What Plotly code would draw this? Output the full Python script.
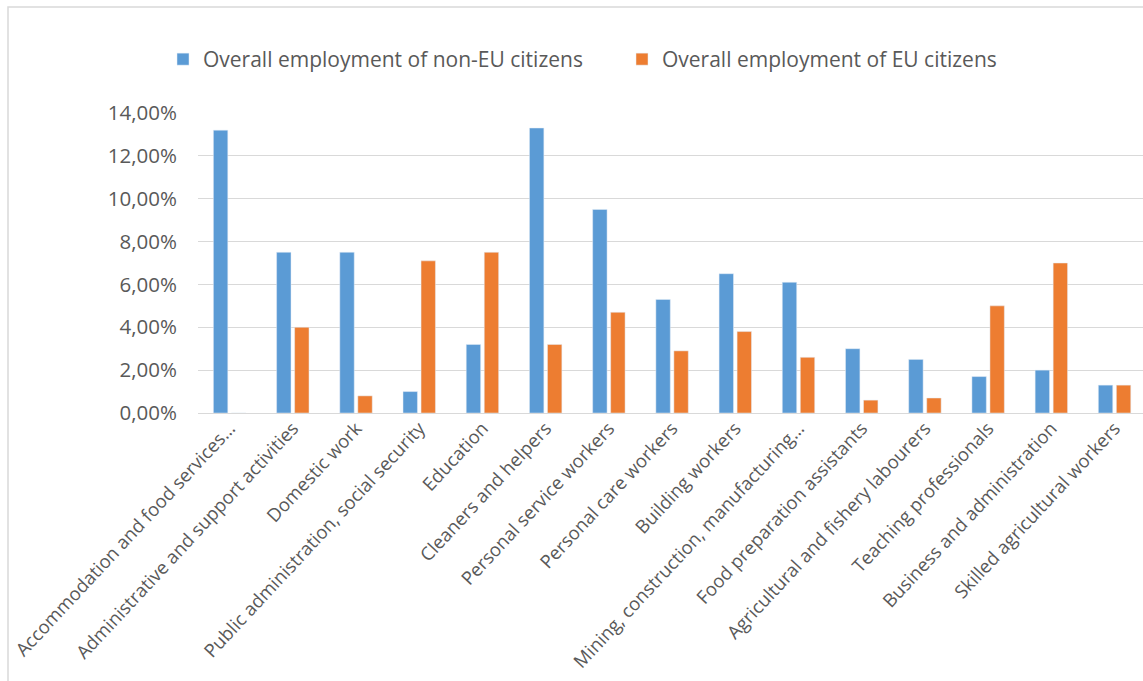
import plotly.graph_objects as go

categories = [
    "Accommodation and food services…",
    "Administrative and support activities",
    "Domestic work",
    "Public administration, social security",
    "Education",
    "Cleaners and helpers",
    "Personal service workers",
    "Personal care workers",
    "Building workers",
    "Mining, construction, manufacturing…",
    "Food preparation assistants",
    "Agricultural and fishery labourers",
    "Teaching professionals",
    "Business and administration",
    "Skilled agricultural workers",
]

non_eu = [0.132, 0.075, 0.075, 0.010, 0.032, 0.133, 0.095, 0.053, 0.065, 0.061, 0.030, 0.025, 0.017, 0.020, 0.013]
eu = [0.0, 0.040, 0.008, 0.071, 0.075, 0.032, 0.047, 0.029, 0.038, 0.026, 0.006, 0.007, 0.050, 0.070, 0.013]

series_names = ["Overall employment of non-EU citizens", "Overall employment of EU citizens"]

BLUE = "#5B9BD5"
ORANGE = "#ED7D31"
GRID = "#D9D9D9"
TEXT = "#595959"
FONT = "Open Sans"

fig = go.Figure()
fig.add_trace(go.Bar(x=categories, y=non_eu, name=series_names[0], marker_color=BLUE))
fig.add_trace(go.Bar(x=categories, y=eu, name=series_names[1], marker_color=ORANGE))

W, H = 1143, 681
ml, mr, mt, mb = 198, 0, 113, 268
pw, ph = W - ml - mr, H - mt - mb

def px_x(p):
    return (p - ml) / pw

def px_y(p):
    return (H - mb - p) / ph

fig.update_layout(
    width=W,
    height=H,
    margin=dict(l=ml, r=mr, t=mt, b=mb, pad=0, autoexpand=False),
    paper_bgcolor="white",
    plot_bgcolor="white",
    separators=",.",
    barmode="group",
    bargap=0.43,
    bargroupgap=0.2,
    font=dict(family=FONT, color=TEXT, size=16),
    legend=dict(
        orientation="h",
        x=px_x(163),
        xanchor="left",
        y=px_y(59.5),
        yanchor="middle",
        font=dict(size=21, color=TEXT),
        entrywidth=414,
        entrywidthmode="pixels",
        bgcolor="rgba(0,0,0,0)",
    ),
    xaxis=dict(
        range=[-0.5, 14.45],
        tickangle=-47,
        showgrid=False,
        showline=False,
        ticks="",
        automargin=False,
        tickfont=dict(size=18.5, color=TEXT),
    ),
    yaxis=dict(
        range=[0, 0.14],
        dtick=0.02,
        tickformat=".2%",
        showgrid=True,
        gridcolor=GRID,
        gridwidth=1.3,
        zeroline=True,
        zerolinecolor=GRID,
        zerolinewidth=1.3,
        showline=False,
        ticks="",
        automargin=False,
        ticklabelstandoff=20,
        tickfont=dict(size=20.5, color=TEXT),
    ),
    shapes=[
        dict(
            type="rect",
            xref="paper",
            yref="paper",
            x0=px_x(8),
            x1=px_x(1160),
            y0=px_y(690),
            y1=px_y(7),
            line=dict(color=GRID, width=1.5),
            fillcolor="rgba(0,0,0,0)",
            layer="below",
        )
    ],
)

fig.write_html("out.html")
